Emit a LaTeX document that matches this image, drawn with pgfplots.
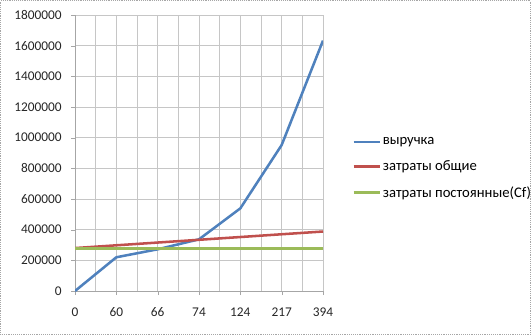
\documentclass[border=0pt]{standalone}
\usepackage{pgfplots}
\pgfplotsset{compat=1.18}
\usepackage{fontspec}
\setmainfont{Carlito}
\definecolor{cblue}{HTML}{4F81BD}
\definecolor{cred}{HTML}{C0504D}
\definecolor{cgreen}{HTML}{9BBB59}
\begin{document}
\begin{tikzpicture}[x=1pt,y=1pt]
\useasboundingbox (0,0) rectangle (398.25,251.25);
\draw[gray!70, densely dotted] (0.5,0.5) rectangle (397.75,250.75);
\begin{axis}[
  at={(56.25pt,33pt)}, anchor=origin,
  scale only axis, width=186pt, height=207pt,
  xmin=0, xmax=6, ymin=0, ymax=1800000,
  xtick={0,1,2,3,4,5,6},
  xticklabels={0,60,66,74,124,217,394},
  minor x tick num=1,
  ytick={0,200000,400000,600000,800000,1000000,1200000,1400000,1600000,1800000},
  scaled y ticks=false,
  /pgf/number format/fixed,
  /pgf/number format/1000 sep={},
  /pgf/number format/assume math mode=true,
  tick label style={font=\fontsize{10}{12}\selectfont, text=black!85},
  xticklabel style={yshift=-6pt},
  yticklabel style={xshift=-3.5pt},
  xmajorgrids, xminorgrids, ymajorgrids,
  grid style={gray!45, line width=0.6pt},
  minor grid style={gray!45, line width=0.6pt},
  axis line style={gray!70},
  axis x line*=bottom, axis y line*=left,
  tick style={gray!70},
  major tick length=3pt, minor tick length=0pt,
  tick align=outside,
  xtick pos=bottom, ytick pos=left,
  legend style={draw=none, fill=none, at={(1.117,0.445)}, anchor=west,
    font=\fontsize{11}{13}\selectfont, row sep=8.5pt, inner sep=0pt,
    nodes={inner sep=1pt}},
  legend cell align=left,
  legend image code/.code={\draw[#1] (0pt,0pt) -- (20pt,0pt);},
]
\addplot[cblue, line width=1.9pt] coordinates {(0,0) (1,220000) (2,272000) (3,337000) (4,539000) (5,952000) (6,1633000)};
\addlegendentry{выручка}
\addplot[cred, line width=1.9pt] coordinates {(0,280000) (1,298000) (2,316000) (3,334000) (4,352000) (5,370000) (6,388000)};
\addlegendentry{затраты общие}
\addplot[cgreen, line width=1.9pt] coordinates {(0,278000) (1,278000) (2,278000) (3,278000) (4,278000) (5,278000) (6,278000)};
\addlegendentry{затраты постоянные(Cf)}
\end{axis}
\end{tikzpicture}
\end{document}
